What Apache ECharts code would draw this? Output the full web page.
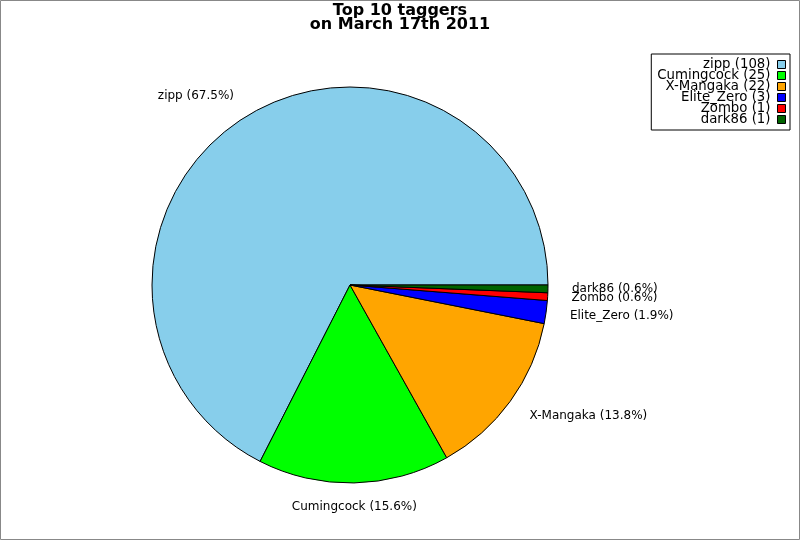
<!DOCTYPE html>
<html>
<head>
<meta charset="utf-8">
<script src="https://cdn.jsdelivr.net/npm/echarts@6/dist/echarts.min.js"></script>
<style>
  html, body { margin: 0; padding: 0; background: #fff; }
  #chart { width: 800px; height: 540px; }
</style>
</head>
<body>
<div id="chart"></div>
<script>
// tag counts per user
const names = ['zipp', 'Cumingcock', 'X-Mangaka', 'Elite_Zero', 'Zombo', 'dark86'];
const counts = [108, 25, 22, 3, 1, 1];
const colors = ['#87ceeb', '#00ff00', '#ffa500', '#0000ff', '#ff0000', '#006400'];

const total = counts.reduce((a, b) => a + b, 0);
const font = 'DejaVu Sans';

const chart = echarts.init(document.getElementById('chart'), null, { renderer: 'canvas' });

chart.setOption({
    animation: false,
    backgroundColor: '#fff',
    textStyle: { fontFamily: font },
    title: {
        text: 'Top 10 taggers\non March 17th 2011',
        left: 'center',
        top: 4,
        padding: 0,
        textStyle: { fontFamily: font, fontSize: 16, fontWeight: 'bold', color: '#000', lineHeight: 14 },
    },
    legend: {
        orient: 'vertical',
        right: 10,
        top: 54,
        align: 'right',
        padding: [4, 4, 4, 6],
        itemGap: -2,
        itemWidth: 8,
        itemHeight: 8,
        borderColor: '#000',
        borderWidth: 1,
        selectedMode: false,
        icon: 'rect',
        itemStyle: { borderColor: '#000', borderWidth: 1 },
        textStyle: { fontFamily: font, fontSize: 13.3, color: '#000', lineHeight: 11, padding: [0, 2, 0, 0] },
        formatter: (n) => n + ' (' + counts[names.indexOf(n)] + ')',
        data: names,
    },
    graphic: [{
        type: 'rect',
        silent: true,
        shape: { x: 0.5, y: 0.5, width: 799, height: 539 },
        style: { fill: 'none', stroke: '#888', lineWidth: 1 },
        z: 100,
    }],
    series: [{
        type: 'pie',
        center: [350, 285],
        radius: 198,
        startAngle: 0,
        clockwise: false,
        avoidLabelOverlap: false,
        itemStyle: { borderColor: '#000', borderWidth: 1 },
        label: {
            position: 'outside',
            fontFamily: font,
            fontSize: 12,
            color: '#000',
            distanceToLabelLine: 0,
            formatter: (p) => p.name + ' (' + (p.value / total * 100).toFixed(1) + '%)',
        },
        labelLine: { show: false, length: 24, length2: 0 },
        labelLayout: (p) => (p.dataIndex === 1 ? { align: 'center' } : {}),
        emphasis: { disabled: true },
        data: names.map((n, i) => ({ name: n, value: counts[i], itemStyle: { color: colors[i] } })),
    }],
});
</script>
</body>
</html>
